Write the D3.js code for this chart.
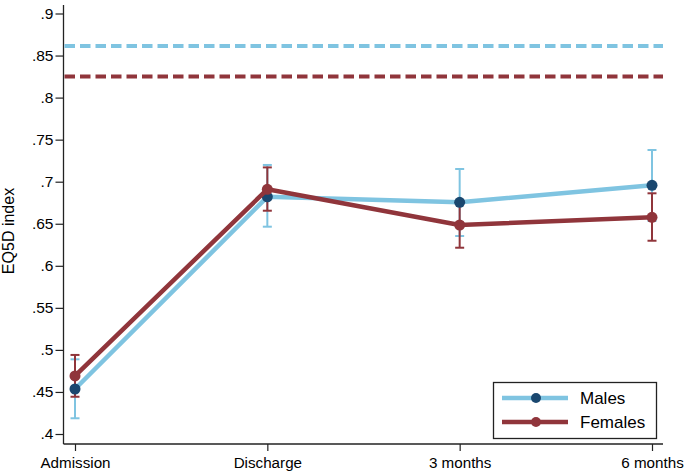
<!DOCTYPE html>
<html>
<head>
<meta charset="utf-8">
<script src="https://cdn.jsdelivr.net/npm/d3@7"></script>
<style>
html,body{margin:0;padding:0;background:#fff;}
svg{display:block;font-family:"Liberation Sans",Arial,Helvetica,sans-serif;}
</style>
</head>
<body>
<svg id="chart" width="685" height="473"></svg>
<script>
const categories = ["Admission", "Discharge", "3 months", "6 months"];
const malesMean  = [0.4535, 0.682, 0.6755, 0.6957];
const malesLow   = [0.4187, 0.6465, 0.6354, 0.6533];
const malesHigh  = [0.4888, 0.7199, 0.7151, 0.7377];
const femalesMean = [0.469, 0.691, 0.6485, 0.6577];
const femalesLow  = [0.4443, 0.6655, 0.6215, 0.6298];
const femalesHigh = [0.494, 0.717, 0.6755, 0.6862];
const refMales = 0.8613;
const refFemales = 0.8251;
const yTicks = [0.4, 0.45, 0.5, 0.55, 0.6, 0.65, 0.7, 0.75, 0.8, 0.85, 0.9];
const seriesNames = ["Males", "Females"];

const lightBlue = "#7fc4e1", navy = "#1a476f", cranberry = "#90353b";
const svg = d3.select("#chart");
const pLeft = 63.5, pRight = 663, pTop = 5, pBottom = 444;

const x = d3.scalePoint().domain(categories).range([75, 652]);
const y = d3.scaleLinear().domain([0.4, 0.9]).range([434, 13.5]);

// axes
const yAxis = d3.axisLeft(y).tickValues(yTicks).tickSize(8).tickPadding(2)
  .tickFormat(d => d3.format(".2~f")(d).replace(/^0/, ""));
const gy = svg.append("g").attr("transform", `translate(${pLeft},0)`).call(yAxis);
gy.select(".domain").remove();
svg.append("line").attr("x1", pLeft).attr("x2", pLeft).attr("y1", pTop).attr("y2", pBottom)
  .attr("stroke", "#222").attr("stroke-width", 1.3);
gy.selectAll(".tick line").attr("stroke", "#222").attr("stroke-width", 1.2);
gy.selectAll(".tick text").attr("font-size", 15.5).attr("fill", "#000")
  .attr("font-family", "Liberation Sans, Arial, sans-serif");

const xAxis = d3.axisBottom(x).tickSize(7).tickPadding(6);
const gx = svg.append("g").attr("transform", `translate(0,${pBottom})`).call(xAxis);
gx.select(".domain").remove();
svg.append("line").attr("x1", pLeft).attr("x2", pRight).attr("y1", pBottom).attr("y2", pBottom)
  .attr("stroke", "#222").attr("stroke-width", 1.3);
gx.selectAll(".tick line").attr("stroke", "#222").attr("stroke-width", 1.2);
gx.selectAll(".tick text").attr("font-size", 15.2).attr("fill", "#000")
  .attr("font-family", "Liberation Sans, Arial, sans-serif");

svg.append("text").attr("transform", `translate(13.5,231) rotate(-90)`)
  .attr("text-anchor", "middle").attr("font-size", 16).attr("fill", "#000").text("EQ5D index");

// reference lines
[[refMales, lightBlue], [refFemales, cranberry]].forEach(([v, c]) => {
  svg.append("line").attr("x1", pLeft + 1).attr("x2", pRight).attr("y1", y(v)).attr("y2", y(v))
    .attr("stroke", c).attr("stroke-width", 4).attr("stroke-dasharray", "10.5,5");
});

function errBars(lo, hi, color) {
  const g = svg.append("g");
  categories.forEach((c, i) => {
    const cx = x(c);
    g.append("line").attr("x1", cx).attr("x2", cx).attr("y1", y(lo[i])).attr("y2", y(hi[i]))
      .attr("stroke", color).attr("stroke-width", 2);
    [lo[i], hi[i]].forEach(v => g.append("line").attr("x1", cx - 4.5).attr("x2", cx + 4.5)
      .attr("y1", y(v)).attr("y2", y(v)).attr("stroke", color).attr("stroke-width", 2));
  });
}
function series(mean, lineColor, ptColor) {
  const line = d3.line().x((d, i) => x(categories[i])).y(d => y(d));
  svg.append("path").datum(mean).attr("d", line).attr("fill", "none")
    .attr("stroke", lineColor).attr("stroke-width", 4.5).attr("stroke-linejoin", "round");
  svg.append("g").selectAll("circle").data(mean).join("circle")
    .attr("cx", (d, i) => x(categories[i])).attr("cy", d => y(d)).attr("r", 5.5)
    .attr("fill", ptColor);
}
errBars(malesLow, malesHigh, lightBlue);
errBars(femalesLow, femalesHigh, cranberry);
series(malesMean, lightBlue, navy);
series(femalesMean, cranberry, cranberry);

// legend
const lg = svg.append("g");
lg.append("rect").attr("x", 493.5).attr("y", 382.5).attr("width", 163).attr("height", 56)
  .attr("fill", "#fff").attr("stroke", "#222").attr("stroke-width", 1.3);
[[seriesNames[0], lightBlue, navy, 398], [seriesNames[1], cranberry, cranberry, 422]].forEach(([n, lc, pc, ly]) => {
  lg.append("line").attr("x1", 502).attr("x2", 568).attr("y1", ly).attr("y2", ly)
    .attr("stroke", lc).attr("stroke-width", 4.5);
  lg.append("circle").attr("cx", 536).attr("cy", ly).attr("r", 5).attr("fill", pc);
  lg.append("text").attr("x", 580).attr("y", ly + 6).attr("font-size", 17).attr("fill", "#000").text(n);
});
</script>
</body>
</html>
